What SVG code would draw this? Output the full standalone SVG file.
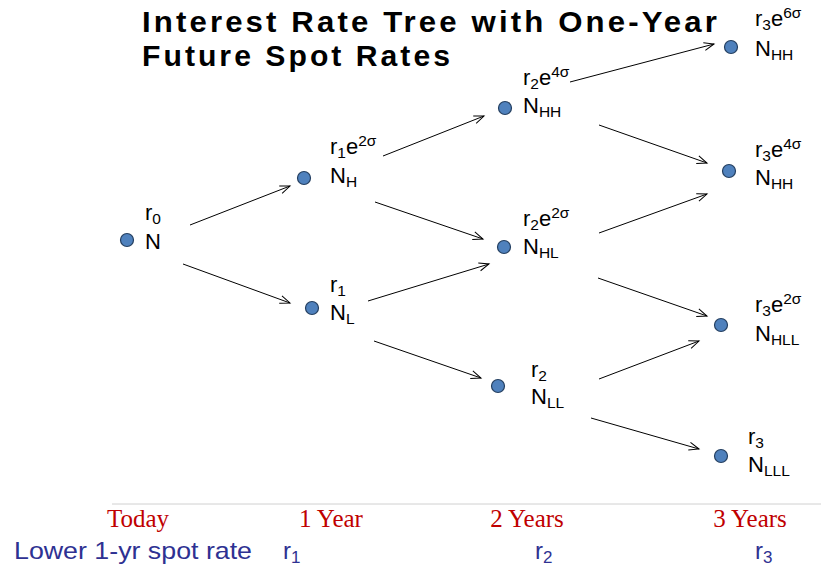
<svg xmlns="http://www.w3.org/2000/svg" width="821" height="570" viewBox="0 0 821 570">
<defs>
<marker id="ah" markerUnits="userSpaceOnUse" markerWidth="14" markerHeight="14" refX="11" refY="5" orient="auto">
<path d="M1,1 L11,5 L1,9" fill="none" stroke="#000" stroke-width="1"/>
</marker>
</defs>
<style>
.t{font-family:"Liberation Sans",Arial,sans-serif;font-size:22px;fill:#000}
.s{font-size:15.5px}
.node circle{fill:#4F81BD;stroke:#243F60;stroke-width:1.2}
.conn line{stroke:#000;stroke-width:1;marker-end:url(#ah)}
.title{font-family:"Liberation Sans",Arial,sans-serif;font-weight:bold;font-size:30px;letter-spacing:3px;fill:#000}
.yr{font-family:"Liberation Serif","Times New Roman",serif;font-size:25px;fill:#C00000;text-anchor:middle}
.lo{font-family:"Liberation Sans",Arial,sans-serif;font-size:24px;fill:#2E3192}
.ls{font-size:17px}
</style>
<rect width="821" height="570" fill="#fff"/>
<text class="title" x="142" y="32" textLength="578" lengthAdjust="spacingAndGlyphs">Interest Rate Tree with One-Year</text>
<text class="title" x="142" y="66" textLength="311" lengthAdjust="spacingAndGlyphs">Future Spot Rates</text>

<g class="conn" id="connectors">
<line x1="190" y1="225" x2="290" y2="186"/>
<line x1="183" y1="264" x2="290" y2="303"/>
<line x1="383" y1="156" x2="484" y2="116"/>
<line x1="375" y1="202" x2="483" y2="239"/>
<line x1="368" y1="301" x2="489" y2="264"/>
<line x1="374" y1="341" x2="481" y2="378"/>
<line x1="570" y1="82" x2="714" y2="44"/>
<line x1="599" y1="125" x2="707" y2="163"/>
<line x1="599" y1="233" x2="707" y2="194"/>
<line x1="598" y1="278" x2="707" y2="316"/>
<line x1="599" y1="379" x2="699" y2="341"/>
<line x1="591" y1="418" x2="699" y2="449"/>
</g>

<g class="node" id="n0">
<circle cx="127" cy="240" r="6.5"/>
<text class="t" x="145" y="220">r<tspan class="s" dy="4">0</tspan></text>
<text class="t" x="145" y="249">N</text>
</g>
<g class="node" id="nH">
<circle cx="304" cy="178" r="6.5"/>
<text class="t" x="330" y="154">r<tspan class="s" dy="4">1</tspan><tspan dy="-4">e</tspan><tspan class="s" dy="-8">2σ</tspan></text>
<text class="t" x="330" y="183">N<tspan class="s" dy="4">H</tspan></text>
</g>
<g class="node" id="nL">
<circle cx="312" cy="308" r="6.5"/>
<text class="t" x="330" y="292">r<tspan class="s" dy="4">1</tspan></text>
<text class="t" x="330" y="320">N<tspan class="s" dy="4">L</tspan></text>
</g>
<g class="node" id="nHH2">
<circle cx="505" cy="108" r="6.5"/>
<text class="t" x="523" y="85">r<tspan class="s" dy="4">2</tspan><tspan dy="-4">e</tspan><tspan class="s" dy="-8">4σ</tspan></text>
<text class="t" x="523" y="113">N<tspan class="s" dy="4">HH</tspan></text>
</g>
<g class="node" id="nHL">
<circle cx="504" cy="247" r="6.5"/>
<text class="t" x="523" y="226">r<tspan class="s" dy="4">2</tspan><tspan dy="-4">e</tspan><tspan class="s" dy="-8">2σ</tspan></text>
<text class="t" x="523" y="254">N<tspan class="s" dy="4">HL</tspan></text>
</g>
<g class="node" id="nLL">
<circle cx="498" cy="386" r="6.5"/>
<text class="t" x="531" y="377">r<tspan class="s" dy="4">2</tspan></text>
<text class="t" x="531" y="404">N<tspan class="s" dy="4">LL</tspan></text>
</g>
<g class="node" id="nHHH">
<circle cx="731" cy="47" r="6.5"/>
<text class="t" x="755" y="26">r<tspan class="s" dy="4">3</tspan><tspan dy="-4">e</tspan><tspan class="s" dy="-8">6σ</tspan></text>
<text class="t" x="755" y="56">N<tspan class="s" dy="4">HH</tspan></text>
</g>
<g class="node" id="nHHL">
<circle cx="729" cy="171" r="6.5"/>
<text class="t" x="755" y="157">r<tspan class="s" dy="4">3</tspan><tspan dy="-4">e</tspan><tspan class="s" dy="-8">4σ</tspan></text>
<text class="t" x="755" y="185">N<tspan class="s" dy="4">HH</tspan></text>
</g>
<g class="node" id="nHLL">
<circle cx="721" cy="325" r="6.5"/>
<text class="t" x="755" y="312">r<tspan class="s" dy="4">3</tspan><tspan dy="-4">e</tspan><tspan class="s" dy="-8">2σ</tspan></text>
<text class="t" x="755" y="341">N<tspan class="s" dy="4">HLL</tspan></text>
</g>
<g class="node" id="nLLL">
<circle cx="721" cy="456" r="6.5"/>
<text class="t" x="748" y="444">r<tspan class="s" dy="4">3</tspan></text>
<text class="t" x="748" y="472">N<tspan class="s" dy="4">LLL</tspan></text>
</g>

<line x1="112" y1="504" x2="821" y2="504" stroke="#D0D0D0" stroke-width="1"/>
<text class="yr" x="138" y="527">Today</text>
<text class="yr" x="331" y="527">1 Year</text>
<text class="yr" x="527" y="527">2 Years</text>
<text class="yr" x="750" y="527">3 Years</text>

<text class="lo" x="14" y="559" textLength="238" lengthAdjust="spacingAndGlyphs">Lower 1-yr spot rate</text>
<text class="lo" x="283" y="559">r<tspan class="ls" dy="4">1</tspan></text>
<text class="lo" x="535" y="559">r<tspan class="ls" dy="4">2</tspan></text>
<text class="lo" x="755" y="559">r<tspan class="ls" dy="4">3</tspan></text>
</svg>
